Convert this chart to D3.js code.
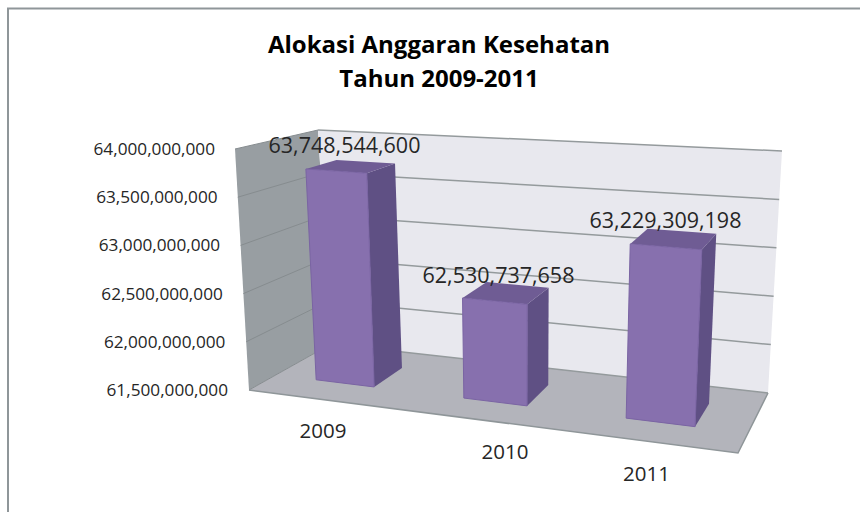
<!DOCTYPE html>
<html><head><meta charset="utf-8">
<script src="https://cdn.jsdelivr.net/npm/d3@7/dist/d3.min.js"></script>
<style>html,body{margin:0;padding:0;background:#fff}svg{display:block}text{font-family:"Open Sans",sans-serif;fill:#262626}</style>
</head><body><div id="c"></div>
<script>
const categories = ["2009","2010","2011"];
const values = [63748544600,62530737658,63229309198];
const valueLabels = ["63,748,544,600","62,530,737,658","63,229,309,198"];
const tickValues = [61500000000,62000000000,62500000000,63000000000,63500000000,64000000000];
const titleLines = ["Alokasi Anggaran Kesehatan","Tahun 2009-2011"];

const W=860,H=512;
const svg=d3.select("#c").append("svg").attr("width",W).attr("height",H);
svg.append("path").attr("d","M8,512V8.5H860").attr("fill","none").attr("stroke","#8f9699").attr("stroke-width",2);

// Plot box corners: index u (left/right), v (floor/ceiling), w (front/back)
const box={p000:[249,390],p100:[738,453],p001:[331,344],p101:[768,393],
           p010:[235,149],p110:[750,186],p011:[318,130],p111:[782,151]};
const yScale=d3.scaleLinear().domain([61500000000,64000000000]).range([0,1]);
const lerp=(a,b,t)=>[a[0]+(b[0]-a[0])*t,a[1]+(b[1]-a[1])*t];
function proj(u,v,w){
  const f=lerp(lerp(box.p000,box.p100,u),lerp(box.p001,box.p101,u),w);
  const c=lerp(lerp(box.p010,box.p110,u),lerp(box.p011,box.p111,u),w);
  return lerp(f,c,v);
}
const line=d3.line();
const face=(pts,fill,stroke)=>svg.append("path").attr("d",line(pts)+"Z").attr("fill",fill).attr("stroke",stroke||"none").attr("stroke-width",stroke?1:0);

face([proj(0,0,1),proj(0,1,1),proj(0,1,0),proj(0,0,0)],"#989ea2");
face([proj(0,0,1),proj(1,0,1),proj(1,1,1),proj(0,1,1)],"#e8e8ee");
face([proj(0,0,0),proj(1,0,0),proj(1,0,1),proj(0,0,1)],"#b3b4bb");

const tickRight=d3.scaleLinear().domain([0,1]).range([228,215]);
const tickBase=d3.scaleLinear().domain([0,1]).range([396,155]);
tickValues.forEach(t=>{
  const v=yScale(t);
  svg.append("path").attr("d",line([proj(0,v,0),proj(0,v,1)])).attr("fill","none").attr("stroke","#868c8f").attr("stroke-width",1);
  svg.append("path").attr("d",line([proj(0,v,1),proj(1,v,1)])).attr("fill","none").attr("stroke","#949a9c").attr("stroke-width",1.5);
  svg.append("text").attr("x",tickRight(v)).attr("y",tickBase(v)).attr("text-anchor","end").attr("font-size",17.2).text(d3.format(",")(t));
});
svg.append("path").attr("d",line([proj(0,0,0),proj(1,0,0),proj(1,0,1)])).attr("fill","none").attr("stroke","#8f9699").attr("stroke-width",1.5);

const foot=[[.085,.208],[.398,.532],[.742,.888]];
const barDepth=[.33,.72];
const catLabelPos=[[323,438],[505,459],[646.5,481]];
const valLabelPos=[[344.5,153],[498.5,283],[665.5,228]];
categories.forEach((c,i)=>{
  const [u0,u1]=foot[i],[w0,w1]=barDepth, v=yScale(values[i]);
  face([proj(u1,0,w0),proj(u1,0,w1),proj(u1,v,w1),proj(u1,v,w0)],"#5f5084");
  face([proj(u0,v,w0),proj(u1,v,w0),proj(u1,v,w1),proj(u0,v,w1)],"#6f5c94");
  face([proj(u0,0,w0),proj(u1,0,w0),proj(u1,v,w0),proj(u0,v,w0)],"#8770ae","#7a64a3");
  svg.append("text").attr("x",valLabelPos[i][0]).attr("y",valLabelPos[i][1]).attr("text-anchor","middle").attr("font-size",21.5).text(valueLabels[i]);
  svg.append("text").attr("x",catLabelPos[i][0]).attr("y",catLabelPos[i][1]).attr("text-anchor","middle").attr("font-size",20.5).text(c);
});
titleLines.forEach((t,i)=>svg.append("text").attr("x",439).attr("y",53+i*34).attr("text-anchor","middle").attr("font-size",24).attr("font-weight",700).style("fill","#000").text(t));
</script></body></html>
